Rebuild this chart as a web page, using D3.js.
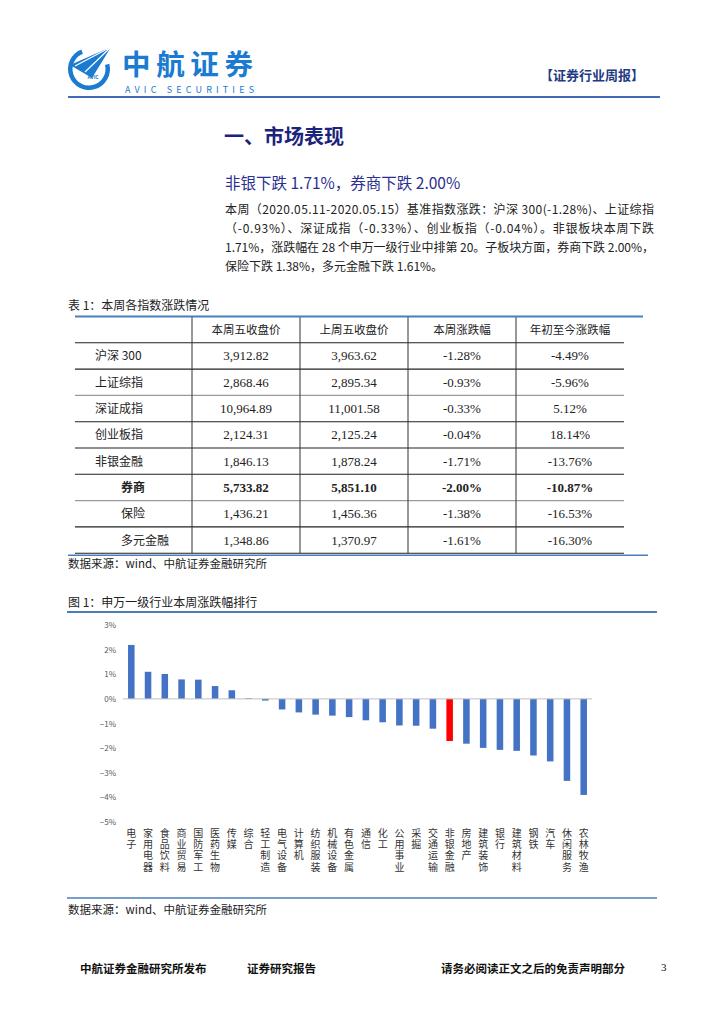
<!DOCTYPE html>
<html>
<head>
<meta charset="utf-8">
<script src="https://cdn.jsdelivr.net/npm/d3@7"></script>
<style>
body { margin: 0; background: #fff; }
text { font-family: "Noto Sans CJK SC", sans-serif; }
.num { font-family: "Liberation Serif", serif; }
</style>
</head>
<body>
<div id="content"></div>
<script>
// chart data
var categories = ['电子', '家用电器', '食品饮料', '商业贸易', '国防军工', '医药生物', '传媒', '综合',
    '轻工制造', '电气设备', '计算机', '纺织服装', '机械设备', '有色金属', '通信', '化工', '公用事业',
    '采掘', '交通运输', '非银金融', '房地产', '建筑装饰', '银行', '建筑材料', '钢铁', '汽车', '休闲服务', '农林牧渔']
var weekChg = [2.19, 1.10, 1.01, 0.79, 0.78, 0.52, 0.35, 0.03, -0.07, -0.43, -0.55, -0.64, -0.68, -0.74,
    -0.87, -0.95, -1.08, -1.09, -1.21, -1.71, -1.82, -1.99, -2.07, -2.11, -2.30, -2.54, -3.33, -3.90]
var yTicks = [-5, -4, -3, -2, -1, 0, 1, 2, 3]
var highlight = '非银金融'

// table data
var tableHeader = ['本周五收盘价', '上周五收盘价', '本周涨跌幅', '年初至今涨跌幅']
var rowNames = ['沪深 300', '上证综指', '深证成指', '创业板指', '非银金融', '券商', '保险', '多元金融']
var closeThis = ['3,912.82', '2,868.46', '10,964.89', '2,124.31', '1,846.13', '5,733.82', '1,436.21', '1,348.86']
var closePrev = ['3,963.62', '2,895.34', '11,001.58', '2,125.24', '1,878.24', '5,851.10', '1,456.36', '1,370.97']
var weekPct = ['-1.28%', '-0.93%', '-0.33%', '-0.04%', '-1.71%', '-2.00%', '-1.38%', '-1.61%']
var ytdPct = ['-4.49%', '-5.96%', '5.12%', '18.14%', '-13.76%', '-10.87%', '-16.53%', '-16.30%']

var bodyLines = [
    '本周（2020.05.11-2020.05.15）基准指数涨跌：沪深 300(-1.28%)、上证综指',
    '（-0.93%）、深证成指（-0.33%）、创业板指（-0.04%）。非银板块本周下跌',
    '1.71%，涨跌幅在 28 个申万一级行业中排第 20。子板块方面，券商下跌 2.00%，',
    '保险下跌 1.38%，多元金融下跌 1.61%。'
]

var svg = d3.select('#content')
    .append('svg')
    .attr('width', 724)
    .attr('height', 1024)

svg.append('rect').attr('width', 724).attr('height', 1024).attr('fill', '#fff')

// ---- header / logo
var logo = svg.append('g').attr('transform', 'translate(89,69)')
logo.append('path')
    .attr('d', d3.arc().innerRadius(16.5).outerRadius(21).startAngle(Math.PI * 0.42).endAngle(Math.PI * 1.88)())
    .attr('fill', '#1a7bd0')
logo.append('path')
    .attr('d', 'M-19,-4L22,-22L3,9Z')
    .attr('fill', '#1a7bd0')
logo.append('path')
    .attr('d', 'M-14,-3L22,-22M-4,3L22,-22')
    .attr('stroke', '#fff').attr('stroke-width', 1.2)
logo.append('text')
    .attr('x', 4).attr('y', 10)
    .attr('text-anchor', 'middle')
    .attr('font-size', 5).attr('font-weight', 'bold')
    .attr('fill', '#1a7bd0')
    .text('AVIC')

svg.append('text')
    .attr('x', 122).attr('y', 75)
    .attr('font-size', 28.5).attr('font-weight', 'bold')
    .attr('fill', '#1a7bd0')
    .attr('textLength', 131).attr('lengthAdjust', 'spacing')
    .text('中航证券')
svg.append('text')
    .attr('x', 125).attr('y', 92.5)
    .attr('font-size', 9)
    .attr('font-family', 'DejaVu Sans')
    .attr('fill', '#1a7bd0')
    .attr('textLength', 129).attr('lengthAdjust', 'spacing')
    .text('AVIC  SECURITIES')
svg.append('line')
    .attr('x1', 68).attr('x2', 660).attr('y1', 97).attr('y2', 97)
    .attr('stroke', '#3f6db5').attr('stroke-width', 2)
svg.append('text')
    .attr('x', 540).attr('y', 80)
    .attr('font-size', 13).attr('font-weight', 'bold')
    .attr('fill', '#1f3b82')
    .text('【证券行业周报】')

// ---- section text
svg.append('text')
    .attr('x', 224).attr('y', 144)
    .attr('font-size', 20).attr('font-weight', 'bold')
    .attr('fill', '#1c237a')
    .text('一、市场表现')
svg.append('text')
    .attr('x', 225).attr('y', 189)
    .attr('font-size', 15.5)
    .attr('fill', '#2b2f8f')
    .text('非银下跌 1.71%，券商下跌 2.00%')

svg.append('g').selectAll('text')
    .data(bodyLines)
    .join('text')
    .attr('x', 225)
    .attr('y', (d, i) => 214 + i * 19)
    .attr('font-size', 12)
    .attr('fill', '#222')
    .attr('textLength', (d, i) => i < 3 ? 429 : null)
    .attr('lengthAdjust', 'spacing')
    .text(d => d)

// ---- table
svg.append('text')
    .attr('x', 68).attr('y', 310)
    .attr('font-size', 12).attr('fill', '#222')
    .text('表 1：本周各指数涨跌情况')

var tblLeft = 75, tblRight = 624, rowH = 26.3, headTop = 316.5
var colX = [tblLeft, 192, 300, 408, 516, tblRight]
var rowY = d3.range(rowNames.length + 2).map(i => headTop + i * rowH)  // boundaries
var grayLines = [3, 7]

var tbl = svg.append('g')
tbl.selectAll('line.h')
    .data(rowY.slice(1))
    .join('line')
    .attr('x1', tblLeft).attr('x2', tblRight)
    .attr('y1', d => d).attr('y2', d => d)
    .attr('stroke', (d, i) => grayLines.includes(i + 1) ? '#9a9a9a' : '#222')
    .attr('stroke-width', 1.1)
tbl.selectAll('line.v')
    .data(colX.slice(1, 5))
    .join('line')
    .attr('x1', d => d).attr('x2', d => d)
    .attr('y1', headTop).attr('y2', rowY[rowY.length - 1])
    .attr('stroke', '#333').attr('stroke-width', 1)
tbl.append('line')
    .attr('x1', tblLeft).attr('x2', 643).attr('y1', headTop).attr('y2', headTop)
    .attr('stroke', '#4a7ebb').attr('stroke-width', 2)
tbl.append('line')
    .attr('x1', 68).attr('x2', 648).attr('y1', rowY[rowY.length - 1] + 2).attr('y2', rowY[rowY.length - 1] + 2)
    .attr('stroke', '#4a7ebb').attr('stroke-width', 1.5)

tbl.selectAll('text.head')
    .data(tableHeader)
    .join('text')
    .attr('x', (d, i) => (colX[i + 1] + colX[i + 2]) / 2)
    .attr('y', headTop + rowH / 2 + 4)
    .attr('text-anchor', 'middle')
    .attr('font-size', 11.5).attr('fill', '#222')
    .text(d => d)

var cols = [closeThis, closePrev, weekPct, ytdPct]
rowNames.forEach(function (name, r) {
    var cy = rowY[r + 1] + rowH / 2 + 4.5
    var bold = name === '券商'
    tbl.append('text')
        .attr('x', r >= 5 ? 121 : 95)
        .attr('y', cy)
        .attr('font-size', 12)
        .attr('font-weight', bold ? 'bold' : 'normal')
        .attr('fill', '#222')
        .text(name)
    cols.forEach(function (col, c) {
        tbl.append('text')
            .attr('class', 'num')
            .attr('x', (colX[c + 1] + colX[c + 2]) / 2)
            .attr('y', cy)
            .attr('text-anchor', 'middle')
            .attr('font-size', 13)
            .attr('font-weight', bold ? 'bold' : 'normal')
            .attr('fill', '#222')
            .text(col[r])
    })
})

svg.append('text')
    .attr('x', 68).attr('y', 568)
    .attr('font-size', 11.5).attr('fill', '#222')
    .text('数据来源：wind、中航证券金融研究所')

// ---- chart
svg.append('text')
    .attr('x', 68).attr('y', 607)
    .attr('font-size', 12).attr('fill', '#222')
    .text('图 1：申万一级行业本周涨跌幅排行')
svg.append('line')
    .attr('x1', 67).attr('x2', 657).attr('y1', 612).attr('y2', 612)
    .attr('stroke', '#4a7ebb').attr('stroke-width', 2)

var x = d3.scaleBand().domain(categories).range([123, 592]).paddingInner(0.61).paddingOuter(0.3)
var y = d3.scaleLinear().domain([-5, 3]).range([822, 625])

svg.append('g')
    .attr('transform', 'translate(118,0)')
    .call(d3.axisLeft(y).tickValues(yTicks).tickSize(0).tickPadding(2).tickFormat(d => d3.format('d')(d) + '%'))
    .call(g => g.select('.domain').remove())
    .selectAll('text')
    .attr('font-family', 'Liberation Serif')
    .attr('font-size', 8)
    .attr('fill', '#595959')

svg.append('g')
    .selectAll('rect')
    .data(categories)
    .join('rect')
    .attr('x', d => x(d))
    .attr('width', x.bandwidth())
    .attr('y', (d, i) => y(Math.max(0, weekChg[i])))
    .attr('height', (d, i) => Math.abs(y(weekChg[i]) - y(0)))
    .attr('fill', d => d === highlight ? '#ff0000' : '#4472c4')

svg.append('line')
    .attr('x1', 123).attr('x2', 592)
    .attr('y1', y(0)).attr('y2', y(0))
    .attr('stroke', '#bfbfbf').attr('stroke-width', 1)

// vertical category labels, one column of characters per bar
svg.append('g')
    .selectAll('text')
    .data(categories)
    .join('text')
    .attr('x', d => x(d) + x.bandwidth() / 2)
    .attr('y', 828)
    .style('writing-mode', 'vertical-rl')
    .style('text-orientation', 'upright')
    .attr('letter-spacing', 1.3)
    .attr('font-size', 10)
    .attr('fill', '#333')
    .text(d => d)

svg.append('line')
    .attr('x1', 67).attr('x2', 657).attr('y1', 898).attr('y2', 898)
    .attr('stroke', '#4a7ebb').attr('stroke-width', 1.5)
svg.append('text')
    .attr('x', 68).attr('y', 914)
    .attr('font-size', 11.5).attr('fill', '#222')
    .text('数据来源：wind、中航证券金融研究所')

// ---- footer
var footer = [
    { t: '中航证券金融研究所发布', x: 80 },
    { t: '证券研究报告', x: 247 },
    { t: '请务必阅读正文之后的免责声明部分', x: 441 }
]
svg.append('g').selectAll('text')
    .data(footer)
    .join('text')
    .attr('x', d => d.x).attr('y', 973)
    .attr('font-size', 11.5).attr('font-weight', 'bold')
    .attr('fill', '#111')
    .text(d => d.t)
svg.append('text')
    .attr('class', 'num')
    .attr('x', 661).attr('y', 971)
    .attr('font-size', 11).attr('fill', '#111')
    .text('3')
</script>
</body>
</html>
